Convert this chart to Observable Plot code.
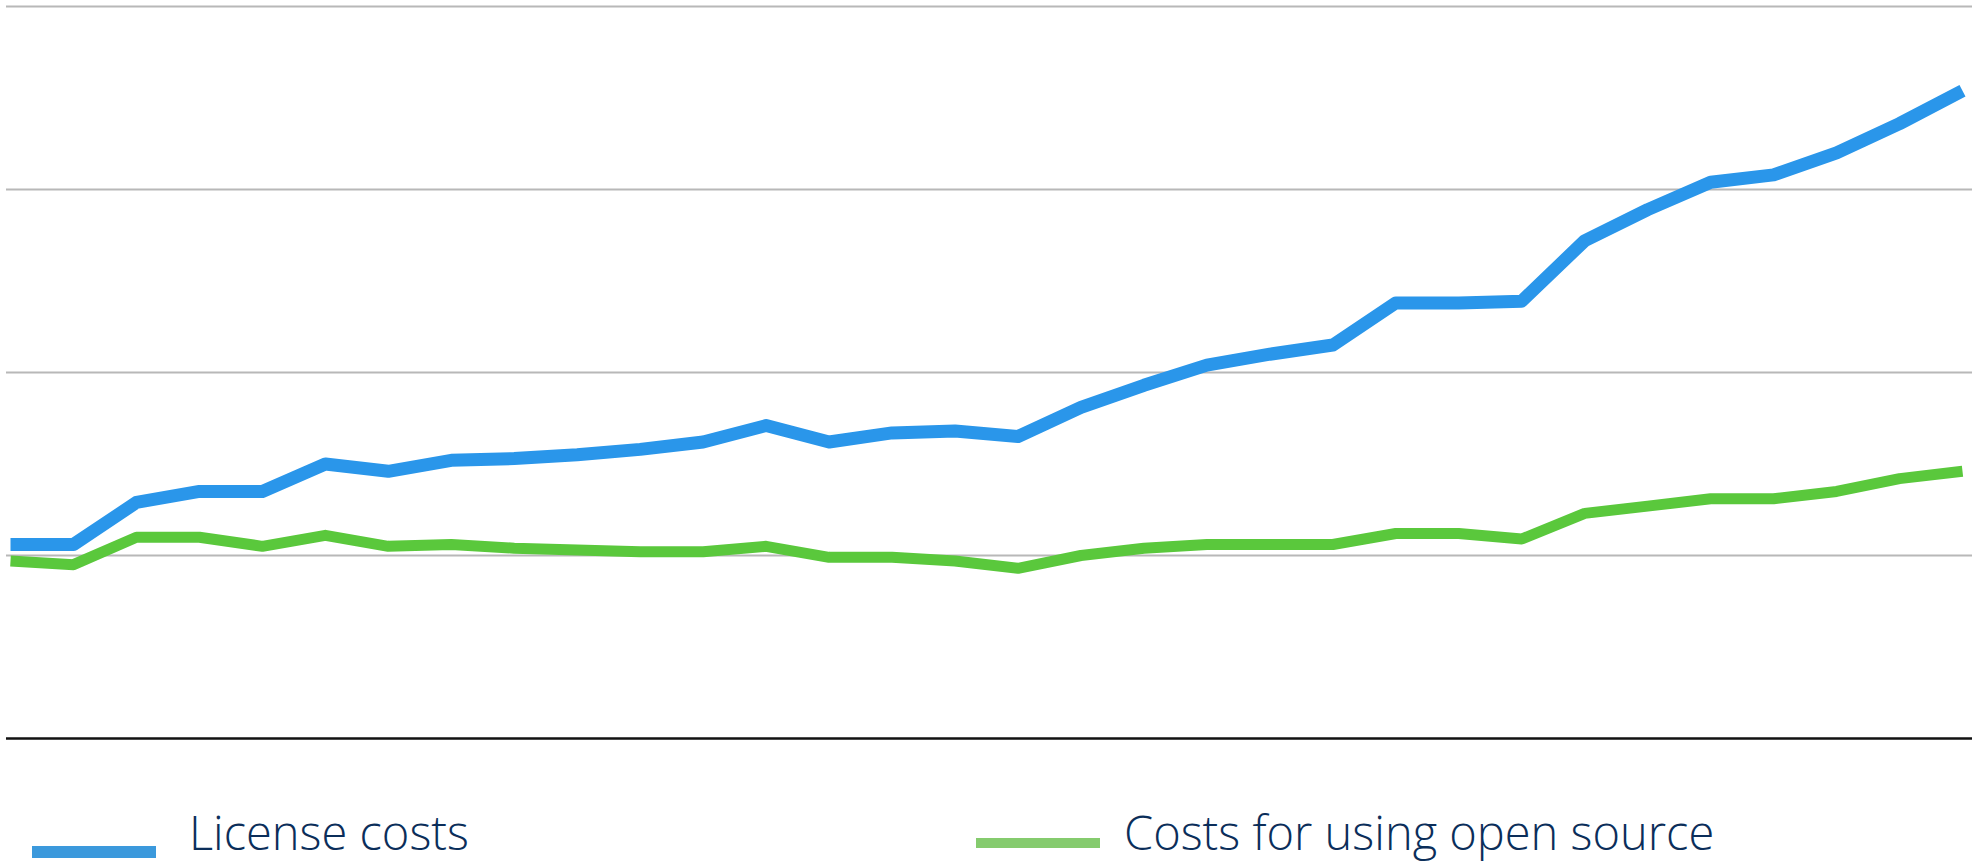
<!DOCTYPE html>
<html>
<head>
<meta charset="utf-8">
<script src="https://cdn.jsdelivr.net/npm/d3@7"></script>
<script src="https://cdn.jsdelivr.net/npm/@observablehq/plot@0.6"></script>
<style>
  html, body { margin: 0; padding: 0; background: #ffffff; }
  #wrap { position: relative; width: 1979px; height: 865px; overflow: hidden; background: #fff; }
  #chart svg { display: block; }
  .sw { position: absolute; }
  .lbl { position: absolute; font-family: "Open Sans", sans-serif; font-size: 47px; line-height: 47px; color: #0b2e5a; white-space: nowrap; font-weight: 350; }
</style>
</head>
<body>
<div id="wrap">
  <div id="chart"></div>
  <div id="legend"></div>
</div>
<script>
// ---- data ----
const periods = [1,2,3,4,5,6,7,8,9,10,11,12,13,14,15,16,17,18,19,20,21,22,23,24,25,26,27,28,29,30,31,32];
const licenseCosts = [1.06,1.06,1.29,1.35,1.35,1.50,1.46,1.52,1.53,1.55,1.58,1.62,1.71,1.62,1.67,1.68,1.65,1.81,1.93,2.04,2.10,2.15,2.38,2.38,2.39,2.72,2.89,3.04,3.08,3.20,3.36,3.54];
const openSourceCosts = [0.97,0.95,1.10,1.10,1.05,1.11,1.05,1.06,1.04,1.03,1.02,1.02,1.05,0.99,0.99,0.97,0.93,1.00,1.04,1.06,1.06,1.06,1.12,1.12,1.09,1.23,1.27,1.31,1.31,1.35,1.42,1.46];
const gridValues = [1, 2, 3, 4];
const seriesNames = ["License costs", "Costs for using open source"];
const lineColors = ["#2a96ea", "#5ac83c"];
const swatchColors = ["#3b99dc", "#85cb6e"];

const licenseRows = periods.map((p, i) => ({period: p, value: licenseCosts[i]}));
const openRows = periods.map((p, i) => ({period: p, value: openSourceCosts[i]}));

const chart = Plot.plot({
  width: 1979,
  height: 745,
  marginTop: 6,
  marginBottom: 7,
  marginLeft: 6,
  marginRight: 7,
  insetLeft: 4,
  insetRight: 10,
  x: {domain: [1, 32], axis: null},
  y: {domain: [0, 4], axis: null},
  style: {background: "#ffffff"},
  marks: [
    Plot.ruleY(gridValues, {stroke: "#b8b8b8", strokeWidth: 2.2}),
    Plot.ruleY([0], {stroke: "#111111", strokeWidth: 2.5}),
    Plot.line(openRows, {x: "period", y: "value", stroke: lineColors[1], strokeWidth: 11, strokeLinejoin: "round", strokeLinecap: "butt"}),
    Plot.line(licenseRows, {x: "period", y: "value", stroke: lineColors[0], strokeWidth: 13, strokeLinejoin: "round", strokeLinecap: "butt"})
  ]
});
document.getElementById("chart").appendChild(chart);

// ---- legend ----
const legend = document.getElementById("legend");
const legendItems = [
  {name: seriesNames[0], color: swatchColors[0], sx: 32, sy: 846, sh: 12, tx: 189, baseline: 851},
  {name: seriesNames[1], color: swatchColors[1], sx: 976, sy: 838, sh: 10, tx: 1124, baseline: 851}
];
legendItems.forEach(it => {
  const s = document.createElement("div");
  s.className = "sw";
  s.style.left = it.sx + "px";
  s.style.top = it.sy + "px";
  s.style.width = "124px";
  s.style.height = it.sh + "px";
  s.style.background = it.color;
  legend.appendChild(s);
  const t = document.createElement("div");
  t.className = "lbl";
  t.textContent = it.name;
  t.style.left = it.tx + "px";
  t.style.top = (it.baseline - 42) + "px";
  legend.appendChild(t);
});
</script>
</body>
</html>
